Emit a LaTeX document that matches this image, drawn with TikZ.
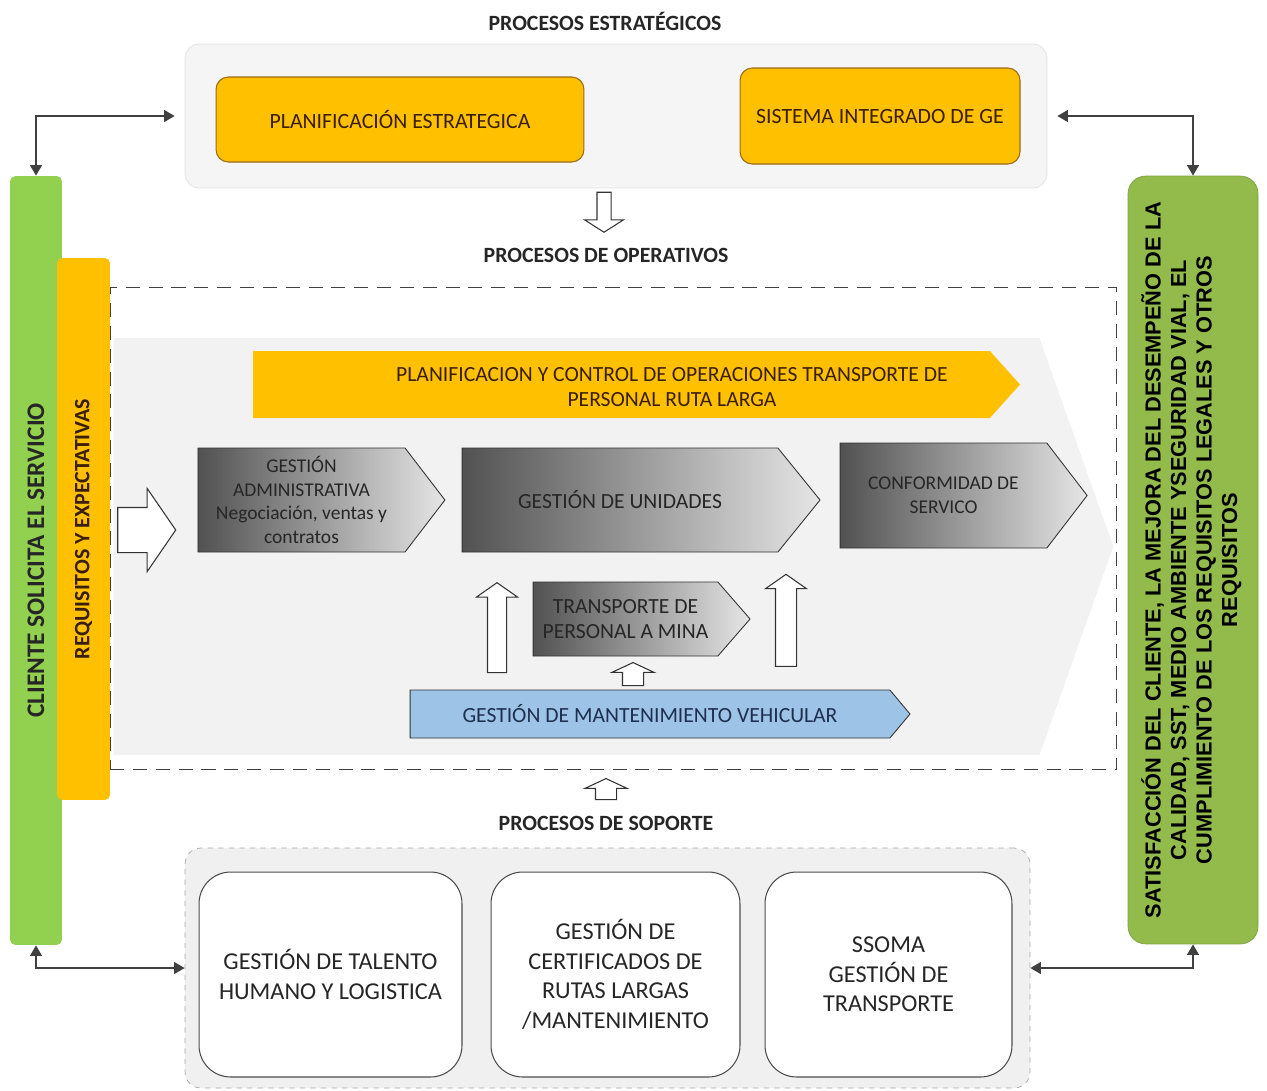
\documentclass[tikz,border=0pt]{standalone}
\usepackage{fontspec}
\setmainfont{Carlito}
\newfontfamily\arialfont{Liberation Sans}
\usetikzlibrary{shapes.symbols,shapes.arrows,arrows.meta}
\definecolor{amarillo}{HTML}{FFC000}
\definecolor{marron}{HTML}{9A6A1A}
\definecolor{textoam}{HTML}{3A1E05}
\definecolor{verdecl}{HTML}{92D050}
\definecolor{verdeol}{RGB}{147,187,75}
\definecolor{azul}{HTML}{9DC3E6}
\definecolor{textoaz}{HTML}{1F2F4F}
\begin{document}
\begin{tikzpicture}[x=0.02cm,y=-0.02cm,
  titulo/.style={font=\bfseries\fontsize{12.4}{14}\selectfont,text=black!85},
  panel/.style={draw=black!12,fill=black!4,rounded corners=8pt},
  cajaam/.style={draw=marron,fill=amarillo,rounded corners=7pt,line width=0.6pt,
    text=textoam,font=\fontsize{12.4}{14}\selectfont},
  flecha/.style={shape=signal,signal to=east,draw=black!80,line width=0.5pt,
    inner sep=0pt,align=center},
  gris/.style={flecha,left color=black!68,right color=black!10,text=black!85,
    font=\fontsize{11.1}{13.5}\selectfont},
  hueca/.style={shape=single arrow,draw=black!80,fill=white,line width=0.6pt,
    inner xsep=0pt,minimum width=0pt},
  conector/.style={draw=black!75,line width=1.5pt,
    {Triangle[length=6pt,width=6.5pt]}-{Triangle[length=6pt,width=6.5pt]}},
  soporte/.style={draw=black!70,fill=white,rounded corners=18pt,line width=0.6pt,
    align=center,font=\fontsize{13.8}{16.8}\selectfont,text=black!85},
  barra/.style={inner sep=0pt,rounded corners=3pt}
]
\useasboundingbox (0,0) rectangle (1267,1090);

% procesos estrategicos
\node[titulo] (tEst) at (605,21) {PROCESOS ESTRATÉGICOS};
\node[panel,minimum width=17.24cm,minimum height=2.88cm] (estr) at (616,116) {};
\node[cajaam,minimum width=7.36cm,minimum height=1.7cm] (plan) at (400,119.5) {PLANIFICACIÓN ESTRATEGICA};
\node[cajaam,minimum width=5.6cm,minimum height=1.92cm] (sig) at (880,116) {SISTEMA INTEGRADO DE GE};
\node[hueca,rotate=-90,minimum height=0.8cm,inner ysep=0.13cm,
  single arrow head extend=0.25cm,single arrow tip angle=115] (fEst) at (604,210) {};

% procesos operativos
\node[titulo] (tOp) at (606,255) {PROCESOS DE OPERATIVOS};
\node[flecha,draw=none,fill=black!5,minimum width=20cm,minimum height=8.34cm,
  signal pointer angle=141] (fondo) at (576.5,546.5) {};
\node[draw=black!75,dash pattern=on 8pt off 5pt,line width=0.6pt,
  minimum width=20.14cm,minimum height=9.66cm] (oper) at (613.5,528.5) {};
\node[flecha,draw=none,fill=amarillo,minimum width=15.34cm,minimum height=1.34cm,
  signal pointer angle=96] (ctrl) at (621.5,384.5) {};
\node[text=textoam,align=center,font=\fontsize{12.3}{14.7}\selectfont] (ctrlTxt) at (672,387)
  {PLANIFICACION Y CONTROL DE OPERACIONES TRANSPORTE DE\\PERSONAL RUTA LARGA};
\node[gris,minimum width=4.94cm,minimum height=2.08cm,signal pointer angle=105] (adm) at (301.5,500)
  {GESTIÓN\\ADMINISTRATIVA\\Negociación, ventas y\\contratos};
\node[gris,minimum width=7.16cm,minimum height=2.08cm,signal pointer angle=102,
  font=\fontsize{12.3}{14}\selectfont] (uni) at (620,500)
  {GESTIÓN DE UNIDADES};
\node[gris,minimum width=4.94cm,minimum height=2.1cm,signal pointer angle=105] (conf) at (943.5,495.5)
  {CONFORMIDAD DE\\SERVICO};
\node[gris,minimum width=4.34cm,minimum height=1.48cm,signal pointer angle=98,
  font=\fontsize{12.3}{14.2}\selectfont] (mina) at (625.5,619)
  {TRANSPORTE DE\\PERSONAL A MINA};
\node[flecha,fill=azul,text=textoaz,minimum width=10cm,minimum height=0.96cm,
  signal pointer angle=100,font=\fontsize{12.3}{14}\selectfont] (mant) at (650,714)
  {GESTIÓN DE MANTENIMIENTO VEHICULAR};
\node[hueca,minimum height=1.16cm,inner ysep=0.44cm,
  single arrow head extend=0.38cm,single arrow tip angle=111] (fReq) at (139,530) {};
\node[hueca,rotate=90,minimum height=1.8cm,inner ysep=0.18cm,
  single arrow head extend=0.22cm,single arrow tip angle=110] (fIzq) at (497,631) {};
\node[hueca,rotate=90,minimum height=1.84cm,inner ysep=0.2cm,
  single arrow head extend=0.2cm,single arrow tip angle=110] (fDer) at (786,624) {};
\node[hueca,rotate=90,minimum height=0.46cm,inner ysep=0.2cm,
  single arrow head extend=0.21cm,single arrow tip angle=130] (fMant) at (633,676.5) {};

% cliente
\node[barra,fill=verdecl,minimum width=1.04cm,minimum height=15.38cm,
  font=\bfseries\fontsize{14.4}{16}\selectfont,text=black!85] (cli) at (36,560.5)
  {\rotatebox{90}{CLIENTE SOLICITA EL SERVICIO}};
\node[barra,fill=amarillo,minimum width=1.06cm,minimum height=10.84cm,
  font=\bfseries\fontsize{12.5}{14}\selectfont,text=textoam] (req) at (83.5,529)
  {\rotatebox{90}{REQUISITOS Y EXPECTATIVAS}};
\node[barra,fill=verdeol,draw=verdeol!85!black,rounded corners=10pt,
  minimum width=2.6cm,minimum height=15.36cm,
  font=\arialfont\bfseries\fontsize{12.4}{14.5}\selectfont,text=black] (sat) at (1193,560)
  {\rotatebox{90}{\begin{tabular}{@{}c@{}}SATISFACCIÓN DEL CLIENTE, LA MEJORA DEL DESEMPEÑO DE LA\\
  CALIDAD, SST, MEDIO AMBIENTE YSEGURIDAD VIAL, EL\\
  CUMPLIMIENTO DE LOS REQUISITOS LEGALES Y OTROS\\
  REQUISITOS\end{tabular}}};

% procesos de soporte
\node[hueca,rotate=90,minimum height=0.42cm,inner ysep=0.2cm,
  single arrow head extend=0.21cm,single arrow tip angle=130] (fSop) at (606,791.5) {};
\node[titulo] (tSop) at (606,823) {PROCESOS DE SOPORTE};
\node[draw=black!35,dashed,fill=black!6,rounded corners=9pt,
  minimum width=16.9cm,minimum height=4.8cm] (sop) at (607.5,968) {};
\node[soporte,minimum width=5.26cm,minimum height=4.1cm] (tal) at (330.5,974.5)
  {GESTIÓN DE TALENTO\\HUMANO Y LOGISTICA};
\node[soporte,minimum width=4.98cm,minimum height=4.1cm] (cert) at (615.5,974.5)
  {GESTIÓN DE\\CERTIFICADOS DE\\RUTAS LARGAS\\/MANTENIMIENTO};
\node[soporte,minimum width=4.94cm,minimum height=4.1cm] (ssoma) at (888.5,974.5)
  {SSOMA\\GESTIÓN DE\\TRANSPORTE};

% conectores
\draw[conector] ([xshift=-0.2cm]estr.west) -| (cli.north);
\draw[conector] ([xshift=0.2cm]estr.east) -| (sat.north);
\draw[conector] (sop.west) -| (cli.south);
\draw[conector] (sop.east) -| (sat.south);
\end{tikzpicture}
\end{document}
